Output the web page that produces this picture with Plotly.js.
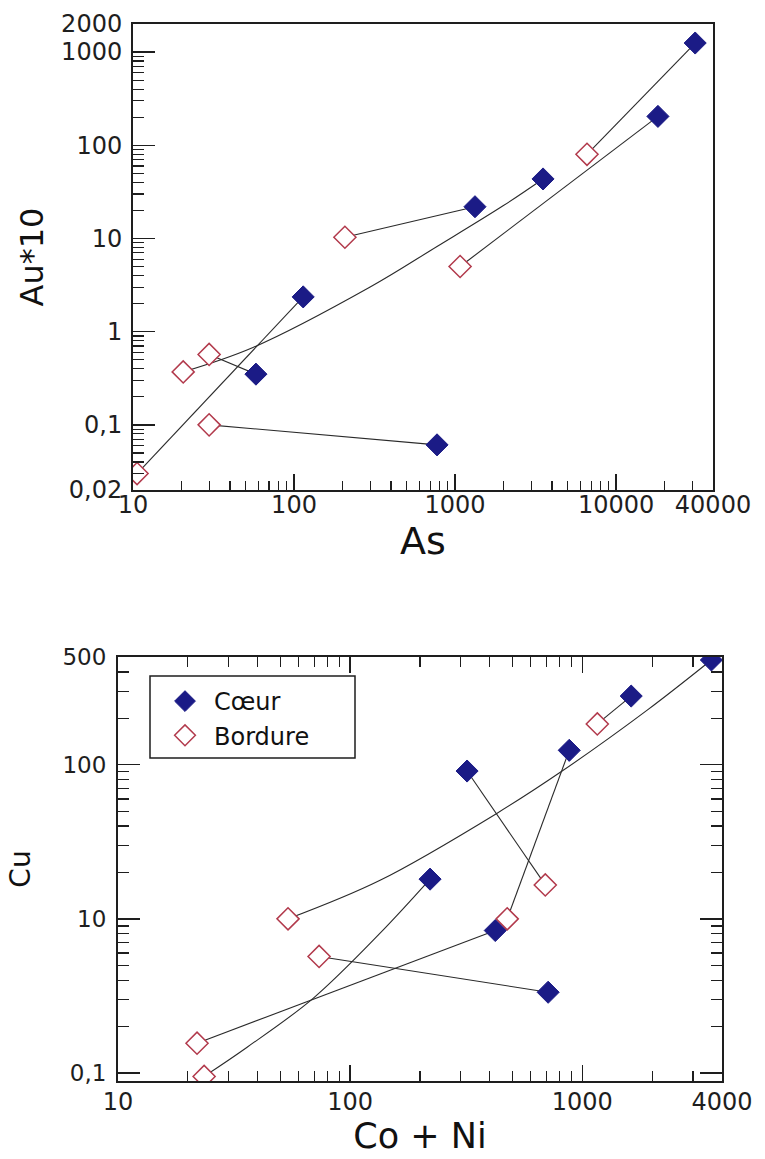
<!DOCTYPE html>
<html>
<head>
<meta charset="utf-8">
<script src="https://cdn.plot.ly/plotly-3.0.1.min.js"></script>
<style>html,body{margin:0;padding:0;background:#fff;}#chart{width:765px;height:1159px;}</style>
</head>
<body>
<div id="chart"></div>
<script>
// ---------- Top chart: Au*10 vs As ----------
const asCoeur = [31000, 18200, 3520, 1330, 114, 58, 773];
const auCoeur = [1250, 204, 43.5, 21.9, 2.36, 0.35, 0.061];
const asBord  = [6600, 1075, 20.5, 207, 10.6, 29.7, 29.7];
const auBord  = [80, 5.0, 0.37, 10.3, 0.030, 0.57, 0.10];
// curved link (pair index 2)
const topCurvePair = 2;
const topCurveAs = [55.6, 297, 773, 1987];
const topCurveAu = [0.676, 3.01, 8.2, 22.4];

const asTickVals = [10, 100, 1000, 10000, 40000];
const asTickText = ['10', '100', '1000', '10000', '40000'];
const auTickVals = [0.02, 0.1, 1, 10, 100, 1000, 2000];
const auTickText = ['0,02', '0,1', '1', '10', '100', '1000', '2000'];

// ---------- Bottom chart: Cu vs Co + Ni ----------
const cnCoeur = [3600, 1625, 879, 319, 221, 422, 713];
const cuCoeur = [478, 279, 124, 91, 18.1, 8.4, 3.34];
const cnBord  = [54, 1161, 475, 693, 23.5, 21.9, 73.5];
const cuBord  = [10, 184, 10, 16.6, 0.95, 1.56, 5.7];
// curved links, points
const botCurveAPair = 0;
const botCurveACn = [134.6, 430, 828, 1905];
const botCurveACu = [17.8, 48.5, 92, 226];
const botCurveBPair = 4;
const botCurveBCn = [36, 69.3, 134.6];
const botCurveBCu = [1.47, 3.05, 8.07];

const cnTickVals = [10, 100, 1000, 4000];
const cnTickText = ['10', '100', '1000', '4000'];
const cuTickVals = [1, 10, 100, 500];
const cuTickText = ['0,1', '10', '100', '500'];

// ---------- styling ----------
const FONT = 'DejaVu Sans, Liberation Sans, sans-serif';
const INK = '#1e1e1e';
const NAVY = '#1b1b86';
const RED = '#b23a4c';
const W = 765, H = 1159;

function minorTicks(lo, hi, extra) {
  const out = [];
  for (let d = lo; d < hi * 0.999; d *= 10) {
    for (let k = 2; k <= 9; k++) out.push(k * d);
  }
  return out.concat(extra || []);
}

const traces = [];
function addLinks(xc, yc, xb, yb, curves, xa, ya) {
  for (let i = 0; i < xc.length; i++) {
    let xs = [xb[i], xc[i]], ys = [yb[i], yc[i]], shape = 'linear';
    const c = curves.find(cv => cv.pair === i);
    if (c) { xs = [xb[i]].concat(c.x, [xc[i]]); ys = [yb[i]].concat(c.y, [yc[i]]); shape = 'spline'; }
    traces.push({x: xs, y: ys, xaxis: xa, yaxis: ya, mode: 'lines', showlegend: false,
      hoverinfo: 'skip', line: {color: '#2a2a2a', width: 1.1, shape: shape, smoothing: 1}});
  }
}
addLinks(asCoeur, auCoeur, asBord, auBord, [{pair: topCurvePair, x: topCurveAs, y: topCurveAu}], 'x', 'y');
addLinks(cnCoeur, cuCoeur, cnBord, cuBord,
  [{pair: botCurveAPair, x: botCurveACn, y: botCurveACu}, {pair: botCurveBPair, x: botCurveBCn, y: botCurveBCu}], 'x2', 'y2');

const coeurMarker = {symbol: 'diamond', size: 17, color: NAVY, line: {color: NAVY, width: 1}};
const bordMarker = {symbol: 'diamond', size: 17, color: '#ffffff', line: {color: RED, width: 1.5}};

traces.push({x: asBord, y: auBord, xaxis: 'x', yaxis: 'y', mode: 'markers', name: 'Bordure', showlegend: false, marker: bordMarker});
traces.push({x: asCoeur, y: auCoeur, xaxis: 'x', yaxis: 'y', mode: 'markers', name: 'Cœur', showlegend: false, marker: coeurMarker});
traces.push({x: cnCoeur, y: cuCoeur, xaxis: 'x2', yaxis: 'y2', mode: 'markers', name: 'Cœur', showlegend: true, marker: coeurMarker, legendrank: 1});
traces.push({x: cnBord, y: cuBord, xaxis: 'x2', yaxis: 'y2', mode: 'markers', name: 'Bordure', showlegend: true, marker: bordMarker, legendrank: 2});

function axisBase(extra) {
  return Object.assign({
    type: 'log', showgrid: false, zeroline: false, showline: true, linecolor: INK, linewidth: 2,
    ticks: 'inside', tickcolor: INK, tickwidth: 1.4, tickmode: 'array', automargin: false,
    tickfont: {family: FONT, size: 24, color: INK}
  }, extra);
}

const layout = {
  width: W, height: H, margin: {l: 0, r: 0, t: 0, b: 0},
  paper_bgcolor: '#ffffff', plot_bgcolor: '#ffffff',
  font: {family: FONT, color: INK},
  xaxis: axisBase({
    domain: [133 / W, 713 / W], anchor: 'y', range: [1, Math.log10(40000)],
    tickvals: asTickVals, ticktext: asTickText, ticklen: 16, mirror: true, ticklabelstandoff: -8,
    minor: {tickmode: 'array', tickvals: minorTicks(10, 10000, [20000, 30000]), ticks: 'inside', ticklen: 9, tickwidth: 1.2, tickcolor: INK, showgrid: false},
    title: {text: 'As', font: {family: FONT, size: 38, color: '#111'}, standoff: 0}
  }),
  yaxis: axisBase({
    domain: [1 - 490 / H, 1 - 24 / H], anchor: 'x', range: [Math.log10(0.02), Math.log10(2000)],
    tickvals: auTickVals, ticktext: auTickText, ticklen: 22, mirror: true, ticklabelstandoff: 4,
    minor: {tickmode: 'array', tickvals: [0.03, 0.04, 0.05, 0.06, 0.07, 0.08, 0.09].concat(minorTicks(0.1, 1000)), ticks: 'inside', ticklen: 11, tickwidth: 1.2, tickcolor: INK, showgrid: false},
    title: {text: 'Au*10', font: {family: FONT, size: 32, color: '#111'}, standoff: 8}
  }),
  xaxis2: axisBase({
    domain: [118 / W, 722 / W], anchor: 'y2', range: [1, Math.log10(4000)],
    tickvals: cnTickVals, ticktext: cnTickText, ticklen: 16, mirror: 'allticks', ticklabelstandoff: -2,
    tickfont: {family: FONT, size: 24, color: INK},
    minor: {tickmode: 'array', tickvals: minorTicks(10, 1000, [2000, 3000]), ticks: 'inside', ticklen: 10, tickwidth: 1.2, tickcolor: INK, showgrid: false},
    title: {text: 'Co + Ni', font: {family: FONT, size: 35, color: '#111'}, standoff: 6}
  }),
  yaxis2: axisBase({
    domain: [1 - 1081 / H, 1 - 657 / H], anchor: 'x2', range: [Math.log10(0.887), Math.log10(500)],
    tickvals: cuTickVals, ticktext: cuTickText, ticklen: 22, mirror: 'allticks', ticklabelstandoff: 5,
    tickfont: {family: FONT, size: 23, color: INK},
    minor: {tickmode: 'array', tickvals: minorTicks(1, 100, [200, 300, 400]), ticks: 'inside', ticklen: 11, tickwidth: 1.2, tickcolor: INK, showgrid: false},
    title: {text: 'Cu', font: {family: FONT, size: 28, color: '#111'}, standoff: 24}
  }),
  showlegend: true,
  legend: {
    x: 156 / W, y: 1 - 679 / H, xanchor: 'left', yanchor: 'top',
    bgcolor: 'rgba(0,0,0,0)', borderwidth: 0, itemwidth: 48,
    font: {family: FONT, size: 24, color: '#111'}, tracegroupgap: 0
  },
  shapes: [{
    type: 'rect', xref: 'paper', yref: 'paper',
    x0: 150 / W, x1: 355 / W, y0: 1 - 758 / H, y1: 1 - 676 / H,
    line: {color: INK, width: 1.5}, fillcolor: 'rgba(0,0,0,0)', layer: 'above'
  }]
};

Plotly.newPlot('chart', traces, layout, {displayModeBar: false, staticPlot: true});
</script>
</body>
</html>
